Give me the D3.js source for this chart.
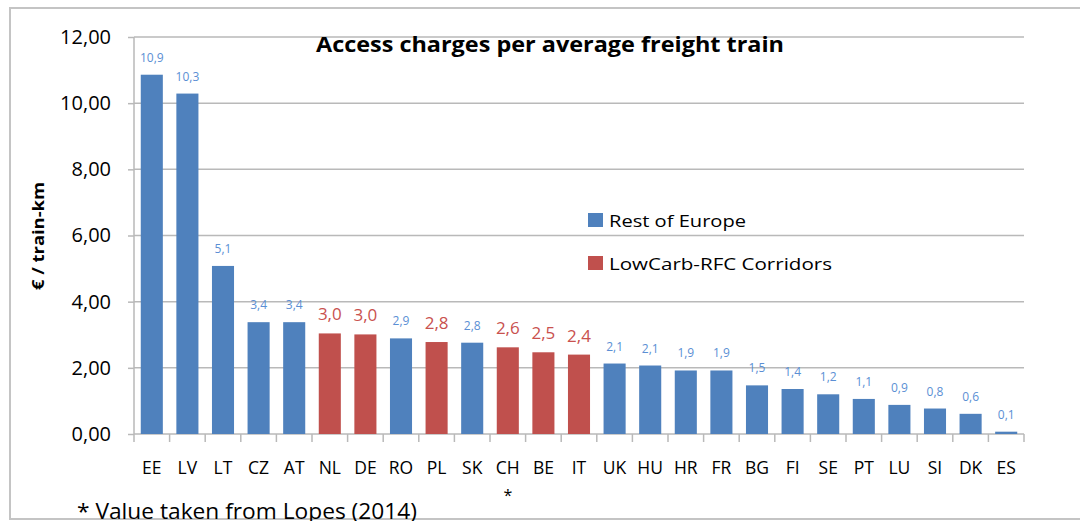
<!DOCTYPE html>
<html>
<head>
<meta charset="utf-8">
<script src="https://cdn.jsdelivr.net/npm/d3@7"></script>
<style>
  html, body { margin: 0; padding: 0; background: #ffffff; }
  svg { display: block; font-family: "Open Sans", Lato, "DejaVu Sans", sans-serif; }
</style>
</head>
<body>
<svg id="chart" width="1080" height="521"></svg>
<script>
// ---- Data ----
const categories = ["EE","LV","LT","CZ","AT","NL","DE","RO","PL","SK","CH","BE","IT","UK","HU","HR","FR","BG","FI","SE","PT","LU","SI","DK","ES"];
const values     = [10.86,10.29,5.08,3.38,3.38,3.04,3.01,2.89,2.78,2.76,2.62,2.47,2.40,2.13,2.07,1.92,1.92,1.47,1.36,1.20,1.06,0.88,0.77,0.61,0.07];
const groups     = ["rest","rest","rest","rest","rest","corr","corr","rest","corr","rest","corr","corr","corr","rest","rest","rest","rest","rest","rest","rest","rest","rest","rest","rest","rest"];
const yTicks     = [0,2,4,6,8,10,12];
const seriesNames = {rest: "Rest of Europe", corr: "LowCarb-RFC Corridors"};
const starredCategory = "CH";
const titleText = "Access charges per average freight train";
const yTitle = "€ / train-km";
const footnote = "* Value taken from Lopes (2014)";

(function () {
const svg = d3.select("#chart");
const pLeft = 134, pRight = 1024, pTop = 37, pBottom = 434;
const colors = {rest: "#4F81BD", corr: "#C0504D"};
const labelColors = {rest: "#5B8FD4", corr: "#C9514E"};
const gridColor = "#b9b9b9";

const locale = d3.formatLocale({decimal: ",", thousands: ".", grouping: [3], currency: ["", "€"]});
const fmtAxis = locale.format(".2f");
const fmtVal = locale.format(".1f");

const x = d3.scaleBand().domain(categories).range([pLeft, pRight]).paddingInner(0.38).paddingOuter(0.19);
const y = d3.scaleLinear().domain([0, 12]).range([pBottom, pTop]);

// frame
svg.append("rect").attr("x", 10).attr("y", 8).attr("width", 1100).attr("height", 511)
  .attr("fill", "#fff").attr("stroke", "#c4c4c4").attr("stroke-width", 2);

// gridlines
svg.append("g").selectAll("line").data(yTicks.filter(d => d > 0)).join("line")
  .attr("x1", pLeft).attr("x2", pRight)
  .attr("y1", d => y(d)).attr("y2", d => y(d))
  .attr("stroke", gridColor).attr("stroke-width", 1.5);

// y axis
const yAxis = d3.axisLeft(y).tickValues(yTicks).tickSize(6).tickPadding(17).tickFormat(fmtAxis);
const gy = svg.append("g").attr("transform", `translate(${pLeft},0)`).call(yAxis);
gy.select(".domain").attr("stroke", gridColor).attr("stroke-width", 1.5).attr("d", `M0,${pTop}V${pBottom}`);
gy.selectAll(".tick line").attr("stroke", gridColor).attr("stroke-width", 1.5);
gy.selectAll(".tick text").attr("font-size", 20).attr("fill", "#000").attr("font-family", "'Open Sans', sans-serif");

// x axis line and boundary ticks
const gap = x.step() - x.bandwidth();
const boundaries = categories.map(c => x(c) - gap / 2).concat([pRight]);
svg.append("line").attr("x1", pLeft).attr("x2", pRight).attr("y1", pBottom).attr("y2", pBottom)
  .attr("stroke", gridColor).attr("stroke-width", 1.5);
svg.append("g").selectAll("line").data(boundaries).join("line")
  .attr("x1", d => d).attr("x2", d => d).attr("y1", pBottom).attr("y2", pBottom + 8)
  .attr("stroke", gridColor).attr("stroke-width", 1.5);

// bars
const data = categories.map((c, i) => ({c, v: values[i], g: groups[i]}));
svg.append("g").selectAll("rect").data(data).join("rect")
  .attr("x", d => x(d.c)).attr("width", x.bandwidth())
  .attr("y", d => y(d.v)).attr("height", d => y(0) - y(d.v))
  .attr("fill", d => colors[d.g]);

// value labels
svg.append("g").selectAll("text").data(data).join("text")
  .attr("x", d => x(d.c) + x.bandwidth() / 2)
  .attr("y", d => y(d.v) - 13)
  .attr("text-anchor", "middle")
  .attr("font-size", d => d.g === "corr" ? 17 : 12)
  .attr("fill", d => labelColors[d.g])
  .text(d => fmtVal(d.v));

// category labels
svg.append("g").selectAll("text").data(categories).join("text")
  .attr("x", d => x(d) + x.bandwidth() / 2)
  .attr("y", 474)
  .attr("text-anchor", "middle")
  .attr("font-size", 17.5)
  .attr("fill", "#000")
  .text(d => d);

// star under CH
svg.append("text").attr("x", x(starredCategory) + x.bandwidth() / 2).attr("y", 501)
  .attr("text-anchor", "middle").attr("font-size", 16).attr("fill", "#000").text("*");

// title
svg.append("text").attr("x", 550).attr("y", 52).attr("text-anchor", "middle")
  .attr("font-size", 21).attr("font-weight", "bold").attr("fill", "#000")
  .attr("textLength", 468).attr("lengthAdjust", "spacingAndGlyphs").text(titleText);

// y title
svg.append("text").attr("transform", "translate(44,236) rotate(-90)")
  .attr("text-anchor", "middle").attr("font-size", 16).attr("font-weight", "bold")
  .attr("fill", "#000").attr("textLength", 108).attr("lengthAdjust", "spacingAndGlyphs").text(yTitle);

// legend
const legendItems = [{k: "rest", y: 213, w: 137}, {k: "corr", y: 256, w: 223}];
const lg = svg.append("g");
lg.selectAll("rect").data(legendItems).join("rect")
  .attr("x", 588).attr("y", d => d.y).attr("width", 15).attr("height", 14)
  .attr("fill", d => colors[d.k]);
lg.selectAll("text").data(legendItems).join("text")
  .attr("x", 609).attr("y", d => d.y + 14).attr("font-size", 17).attr("fill", "#000")
  .attr("textLength", d => d.w).attr("lengthAdjust", "spacingAndGlyphs")
  .text(d => seriesNames[d.k]);

// footnote (cut by the bottom edge, as in the reference)
svg.append("text").attr("x", 77).attr("y", 519).attr("font-size", 21).attr("fill", "#000")
  .attr("textLength", 340).attr("lengthAdjust", "spacingAndGlyphs").text(footnote);
})();
</script>
</body>
</html>
